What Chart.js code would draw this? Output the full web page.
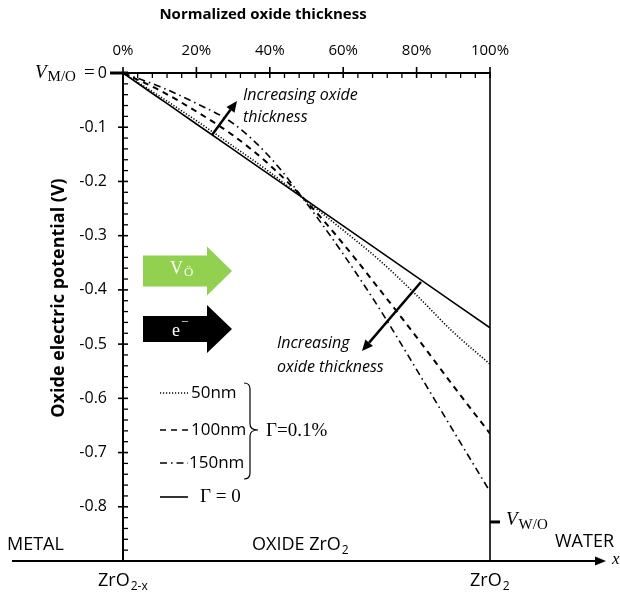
<!DOCTYPE html>
<html>
<head>
<meta charset="utf-8">
<script src="https://cdn.jsdelivr.net/npm/chart.js@4.4.0/dist/chart.umd.min.js"></script>
<style>
body { margin: 0; background: #fff; }
#wrap { width: 620px; height: 594px; }
</style>
</head>
<body>
<div id="wrap"><canvas id="g_potential"></canvas></div>
<script>
// normalized oxide thickness (%) and potential (V)
const thickness = [0, 10, 20, 30, 40, 50, 60, 70, 80, 90, 100]
const v_50nm   = [0, -0.043, -0.088, -0.135, -0.183, -0.236, -0.290, -0.346, -0.410, -0.478, -0.537]
const v_100nm  = [0, -0.032, -0.071, -0.115, -0.170, -0.237, -0.315, -0.400, -0.487, -0.577, -0.665]
const v_150nm  = [0, -0.025, -0.056, -0.093, -0.155, -0.240, -0.334, -0.436, -0.547, -0.660, -0.772]
const v_gamma0 = [0, -0.047, -0.094, -0.141, -0.188, -0.235, -0.282, -0.329, -0.376, -0.423, -0.470]

const series_names = ["50nm", "100nm", "150nm", "Γ = 0"]
const x_ticks = [0, 20, 40, 60, 80, 100]
const y_ticks = [0, -0.1, -0.2, -0.3, -0.4, -0.5, -0.6, -0.7, -0.8]
const v_wo = -0.828

const SANS = "'Open Sans', 'Noto Sans', sans-serif"
const SERIF = "'Liberation Serif', 'DejaVu Serif', serif"

function pts(vals) {
    return thickness.map((x, i) => ({ x: x, y: vals[i] }))
}

function line(ctx, x1, y1, x2, y2, w) {
    ctx.lineWidth = w
    ctx.beginPath()
    ctx.moveTo(x1, y1)
    ctx.lineTo(x2, y2)
    ctx.stroke()
}

function arrow(ctx, x1, y1, x2, y2) {
    const a = Math.atan2(y2 - y1, x2 - x1)
    const hl = 11, hw = 5
    const bx = x2 - hl * Math.cos(a), by = y2 - hl * Math.sin(a)
    line(ctx, x1, y1, bx, by, 2.5)
    ctx.beginPath()
    ctx.moveTo(x2, y2)
    ctx.lineTo(bx + hw * Math.sin(a), by - hw * Math.cos(a))
    ctx.lineTo(bx - hw * Math.sin(a), by + hw * Math.cos(a))
    ctx.closePath()
    ctx.fill()
}

function blockArrow(ctx, x0, yc, bodyEnd, tip, bh, hh, color) {
    ctx.fillStyle = color
    ctx.beginPath()
    ctx.moveTo(x0, yc - bh / 2)
    ctx.lineTo(bodyEnd, yc - bh / 2)
    ctx.lineTo(bodyEnd, yc - hh / 2)
    ctx.lineTo(tip, yc)
    ctx.lineTo(bodyEnd, yc + hh / 2)
    ctx.lineTo(bodyEnd, yc + bh / 2)
    ctx.lineTo(x0, yc + bh / 2)
    ctx.closePath()
    ctx.fill()
}

// text followed by a subscript
function subText(ctx, main, sub, x, y, mainFont, subFont, drop) {
    ctx.textAlign = "left"
    ctx.font = mainFont
    ctx.fillText(main, x, y)
    const w = ctx.measureText(main).width
    ctx.font = subFont
    ctx.fillText(sub, x + w + 1, y + drop)
}

const decor = {
    id: "decor",
    afterDraw(chart) {
        const ctx = chart.ctx
        const xs = chart.scales.x, ys = chart.scales.y
        const L = chart.chartArea.left, R = chart.chartArea.right
        const T = chart.chartArea.top, B = chart.chartArea.bottom
        ctx.save()
        ctx.strokeStyle = "#000"
        ctx.fillStyle = "#000"
        ctx.lineCap = "butt"

        // box / axes
        line(ctx, L, T, R, T, 2)
        line(ctx, L, T - 1, L, B, 2)
        line(ctx, R, T - 1, R, B, 1.6)

        // tick marks
        xs.ticks.forEach(t => {
            const px = xs.getPixelForValue(t.value)
            if (x_ticks.includes(t.value)) line(ctx, px, T - 6, px, T + 5, 1.6)
            else line(ctx, px, T, px, T + 5, 1.3)
        })
        ys.ticks.forEach(t => {
            const v = Math.round(t.value * 100) / 100
            if (v <= -0.9) return
            const py = ys.getPixelForValue(v)
            if (v === 0) line(ctx, L - 13, py, L + 5, py, 3)
            else if (y_ticks.includes(v)) line(ctx, L - 5, py, L + 5, py, 1.6)
            else line(ctx, L, py, L + 5, py, 1.3)
        })

        // bottom x arrow axis
        line(ctx, 12, B, 598, B, 2)
        ctx.beginPath()
        ctx.moveTo(606, B)
        ctx.lineTo(595, B - 4.5)
        ctx.lineTo(595, B + 4.5)
        ctx.closePath()
        ctx.fill()
        ctx.font = "italic 17px " + SERIF
        ctx.textBaseline = "middle"
        ctx.textAlign = "left"
        ctx.fillText("x", 612, B - 1)

        // titles
        ctx.textAlign = "center"
        ctx.font = "bold 15px " + SANS
        ctx.fillText("Normalized oxide thickness", 263, 15)
        ctx.save()
        ctx.translate(59, 298)
        ctx.rotate(-Math.PI / 2)
        ctx.font = "bold 18px " + SANS
        ctx.fillText("Oxide electric potential (V)", 0, 0)
        ctx.restore()

        // V_M/O = label
        const y0 = ys.getPixelForValue(0)
        subText(ctx, "V", "M/O", 35, y0, "italic 19px " + SERIF, "15px " + SERIF, 4)
        ctx.font = "19px " + SERIF
        ctx.fillText("=", 84, y0)

        // V_W/O marker
        const yw = ys.getPixelForValue(v_wo)
        line(ctx, R, yw, R + 10, yw, 3)
        subText(ctx, "V", "W/O", 506, yw - 2, "italic 19px " + SERIF, "15px " + SERIF, 5)

        // bottom region labels
        ctx.font = "18px " + SANS
        ctx.textAlign = "left"
        ctx.fillText("METAL", 7, 545)
        ctx.fillText("WATER", 555, 542)
        subText(ctx, "OXIDE ZrO", "2", 252, 545, "18px " + SANS, "12px " + SANS, 6)
        subText(ctx, "ZrO", "2-x", 98, 581, "18px " + SANS, "12px " + SANS, 6)
        subText(ctx, "ZrO", "2", 470, 581, "18px " + SANS, "12px " + SANS, 6)

        // carrier arrows
        blockArrow(ctx, 143, 271, 207, 232, 31, 49, "#92d050")
        blockArrow(ctx, 143, 329, 207, 232, 26, 48, "#000")
        ctx.fillStyle = "#fff"
        subText(ctx, "V", "\u00d6", 170, 269, "18px " + SERIF, "13px " + SERIF, 4)
        ctx.font = "18px " + SERIF
        ctx.fillText("e", 172, 331)
        ctx.font = "13px " + SERIF
        ctx.fillText("\u2212", 181, 323)
        ctx.fillStyle = "#000"

        // "increasing oxide thickness" annotations
        arrow(ctx, 212, 135, 237, 101)
        arrow(ctx, 421, 282, 362, 351)
        ctx.textAlign = "left"
        ctx.font = "italic 16px " + SANS
        ctx.fillText("Increasing oxide", 243, 95)
        ctx.fillText("thickness", 243, 117)
        ctx.fillText("Increasing", 277, 343)
        ctx.fillText("oxide thickness", 277, 367)

        // legend
        const legY = [393, 430, 463, 497]
        const dashes = [[1.2, 1.8], [6, 5], [7, 4, 1.5, 4], []]
        chart.data.datasets.forEach((ds, i) => {
            ctx.setLineDash(dashes[i])
            line(ctx, 160, legY[i], 188, legY[i], 1.6)
        })
        ctx.setLineDash([])
        ctx.font = "17px " + SANS
        ctx.fillText(series_names[0], 191, legY[0])
        ctx.fillText(series_names[1], 191, legY[1])
        ctx.fillText(series_names[2], 189, legY[2])
        ctx.font = "19px " + SERIF
        ctx.fillText(series_names[3], 200, legY[3])
        // brace
        ctx.lineWidth = 1.2
        ctx.beginPath()
        ctx.moveTo(244, 383)
        ctx.quadraticCurveTo(250, 383, 250, 389)
        ctx.lineTo(250, 424)
        ctx.quadraticCurveTo(250, 430, 258, 430)
        ctx.moveTo(250, 436)
        ctx.quadraticCurveTo(250, 430, 258, 430)
        ctx.moveTo(250, 436)
        ctx.lineTo(250, 473)
        ctx.quadraticCurveTo(250, 479, 244, 479)
        ctx.stroke()
        ctx.font = "19px " + SERIF
        ctx.fillText("Γ=0.1%", 266, 431)

        ctx.restore()
    }
}

const lineStyle = {
    borderColor: "#000",
    borderWidth: 1.6,
    pointRadius: 0,
    fill: false,
    cubicInterpolationMode: "monotone"
}

new Chart(document.getElementById("g_potential"), {
    type: "line",
    data: {
        datasets: [
            { ...lineStyle, label: series_names[0], data: pts(v_50nm), borderDash: [1.2, 1.8] },
            { ...lineStyle, label: series_names[1], data: pts(v_100nm), borderDash: [6, 5], borderWidth: 2 },
            { ...lineStyle, label: series_names[2], data: pts(v_150nm), borderDash: [7, 4, 1.5, 4] },
            { ...lineStyle, label: series_names[3], data: pts(v_gamma0) }
        ]
    },
    options: {
        responsive: true,
        maintainAspectRatio: false,
        animation: false,
        layout: { padding: { left: 80, top: 43, right: 130, bottom: 33 } },
        plugins: {
            legend: { display: false },
            tooltip: { enabled: false }
        },
        scales: {
            x: {
                type: "linear",
                position: "top",
                min: 0,
                max: 100,
                afterFit: s => { s.height = 30 },
                grid: { display: false, drawTicks: false },
                border: { display: false },
                ticks: {
                    stepSize: 4,
                    autoSkip: false,
                    maxRotation: 0,
                    padding: 13,
                    color: "#000",
                    font: { family: SANS, size: 15 },
                    callback: v => x_ticks.includes(v) ? v + "%" : ""
                }
            },
            y: {
                type: "linear",
                min: -0.9,
                max: 0,
                afterFit: s => { s.width = 43 },
                grid: { display: false, drawTicks: false },
                border: { display: false },
                ticks: {
                    stepSize: 0.02,
                    autoSkip: false,
                    padding: 16,
                    color: "#000",
                    font: { family: SANS, size: 16 },
                    callback: v => {
                        const r = Math.round(v * 100) / 100
                        return y_ticks.includes(r) ? (r === 0 ? "0" : r.toFixed(1)) : ""
                    }
                }
            }
        }
    },
    plugins: [decor]
})
</script>
</body>
</html>
